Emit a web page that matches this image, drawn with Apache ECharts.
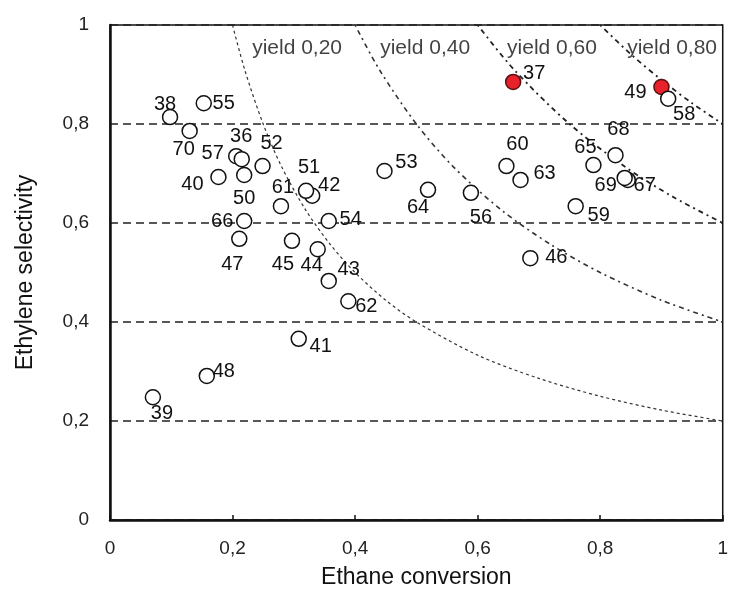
<!DOCTYPE html>
<html>
<head>
<meta charset="utf-8">
<script src="https://cdn.jsdelivr.net/npm/echarts@6/dist/echarts.min.js"></script>
<style>
  html, body { margin: 0; padding: 0; background: #fff; }
  #chart { width: 731px; height: 596px; }
</style>
</head>
<body>
<div id="chart"></div>
<script>
// run numbers, ethane conversion and ethylene selectivity
var runIds = [36, 37, 38, 39, 40, 41, 42, 43, 44, 45, 46, 47, 48, 49, 50, 51, 52, 53,
              54, 55, 56, 57, 58, 59, 60, 61, 62, 63, 64, 65, 66, 67, 68, 69, 70];
var conversion = [0.206, 0.658, 0.098, 0.070, 0.177, 0.308, 0.330, 0.357, 0.339, 0.297,
                  0.686, 0.211, 0.158, 0.900, 0.219, 0.320, 0.249, 0.448, 0.357, 0.153,
                  0.589, 0.215, 0.911, 0.760, 0.647, 0.279, 0.389, 0.670, 0.519, 0.789,
                  0.219, 0.845, 0.825, 0.840, 0.130];
var selectivity = [0.735, 0.885, 0.814, 0.248, 0.693, 0.366, 0.655, 0.483, 0.547, 0.564,
                   0.529, 0.568, 0.291, 0.875, 0.697, 0.665, 0.715, 0.705, 0.604, 0.842,
                   0.661, 0.729, 0.851, 0.634, 0.715, 0.634, 0.442, 0.687, 0.667, 0.717,
                   0.604, 0.687, 0.737, 0.691, 0.786];
var highlighted = [37, 49];

// iso-yield curves (selectivity)
var yield20 = [[0.2, 1], [0.22, 0.909], [0.25, 0.8], [0.28, 0.714], [0.32, 0.625], [0.36, 0.556],
               [0.4, 0.5], [0.45, 0.444], [0.5, 0.4], [0.6, 0.333], [0.7, 0.286], [0.8, 0.25],
               [0.9, 0.222], [1, 0.2]];
var yield40 = [[0.4, 1], [0.44, 0.909], [0.5, 0.8], [0.56, 0.714], [0.64, 0.625], [0.72, 0.556],
               [0.8, 0.5], [0.9, 0.444], [1, 0.4]];
var yield60 = [[0.6, 1], [0.66, 0.909], [0.75, 0.8], [0.84, 0.714], [0.92, 0.652], [1, 0.6]];
var yield80 = [[0.8, 1], [0.85, 0.941], [0.9, 0.889], [0.95, 0.842], [1, 0.8]];
var yieldNames = ['yield 0,20', 'yield 0,40', 'yield 0,60', 'yield 0,80'];
var yieldNameAt = [[0.232, 0.954], [0.441, 0.954], [0.648, 0.954], [0.844, 0.954]];

// label offsets in px (placement only)
var labelOffsets = {
  36: [5, -20], 37: [21, -8], 38: [-5, -13], 39: [9, 16], 40: [-26, 8], 41: [22, 8],
  42: [17, -10], 43: [20, -11], 44: [-6, 16], 45: [-9, 24], 46: [26, -1], 47: [-7, 26],
  48: [17, -4], 49: [-26, 6], 50: [0, 23], 51: [3, -23], 52: [9, -23], 53: [22, -9],
  54: [22, -2], 55: [20, 0], 56: [10, 25], 57: [-29, -6], 58: [16, 16], 59: [23, 9],
  60: [11, -22], 61: [2, -19], 62: [18, 5], 63: [24, -6], 64: [-10, 18], 65: [-8, -18],
  66: [-22, 0], 67: [17, 6], 68: [3, -26], 69: [-19, 8], 70: [-6, 19]
};

var font = 'Liberation Sans, Arial, sans-serif';
var comma = function (v) { return String(+(+v).toFixed(1)).replace('.', ','); };

var points = runIds.map(function (id, i) {
  var red = highlighted.indexOf(id) >= 0;
  return {
    value: [conversion[i], selectivity[i]],
    name: String(id),
    itemStyle: red ? { color: '#e8212b', borderColor: '#5a1010' } : undefined,
    label: { offset: labelOffsets[id] }
  };
});

function curve(data, dash, width, color) {
  return {
    type: 'line', data: data, smooth: 0.3, symbol: 'none', silent: true, z: 2,
    lineStyle: { type: dash, width: width, color: color }
  };
}

var chart = echarts.init(document.getElementById('chart'));
chart.setOption({
  animation: false,
  textStyle: { fontFamily: font },
  grid: { left: 110, right: 5, top: 25, bottom: 76, show: true, borderColor: '#111', borderWidth: 1.5 },
  xAxis: {
    type: 'value', min: 0, max: 1, interval: 0.2,
    name: 'Ethane conversion', nameLocation: 'middle', nameGap: 46,
    nameTextStyle: { fontSize: 23, color: '#111' },
    axisLine: { onZero: false, lineStyle: { color: '#111', width: 2.5 } },
    axisTick: { inside: true, length: 5, lineStyle: { color: '#111', width: 1.5 } },
    axisLabel: { fontSize: 19, color: '#222', margin: 19, formatter: comma },
    splitLine: { show: false }
  },
  yAxis: {
    type: 'value', min: 0, max: 1, interval: 0.2,
    name: 'Ethylene selectivity', nameLocation: 'middle', nameGap: 73,
    nameTextStyle: { fontSize: 23, color: '#111' },
    axisLine: { onZero: false, lineStyle: { color: '#111', width: 2.5 } },
    axisTick: { show: false },
    axisLabel: { fontSize: 19, color: '#222', margin: 21, formatter: comma },
    splitLine: { lineStyle: { type: [8, 5], width: 1.5, color: '#222' } }
  },
  series: [
    curve(yield20, [3, 3], 1.2, '#333'),
    curve(yield40, [2, 4, 5, 4], 1.6, '#333'),
    curve(yield60, [2, 4, 5, 4], 1.8, '#222'),
    curve(yield80, [2, 4, 5, 4], 1.8, '#222'),
    {
      type: 'scatter', symbolSize: 0, silent: true, z: 3,
      data: yieldNames.map(function (n, i) { return { value: yieldNameAt[i], name: n }; }),
      label: { show: true, position: 'right', distance: 0, formatter: '{b}', fontSize: 21, color: '#111' }
    },
    {
      type: 'scatter', symbol: 'circle', symbolSize: 15, z: 5,
      itemStyle: { color: '#fff', borderColor: '#111', borderWidth: 1.5, opacity: 1 },
      label: { show: true, position: 'inside', formatter: '{b}', fontSize: 20, color: '#111' },
      data: points
    }
  ]
});
window.onresize = function () { chart.resize(); };
</script>
</body>
</html>
